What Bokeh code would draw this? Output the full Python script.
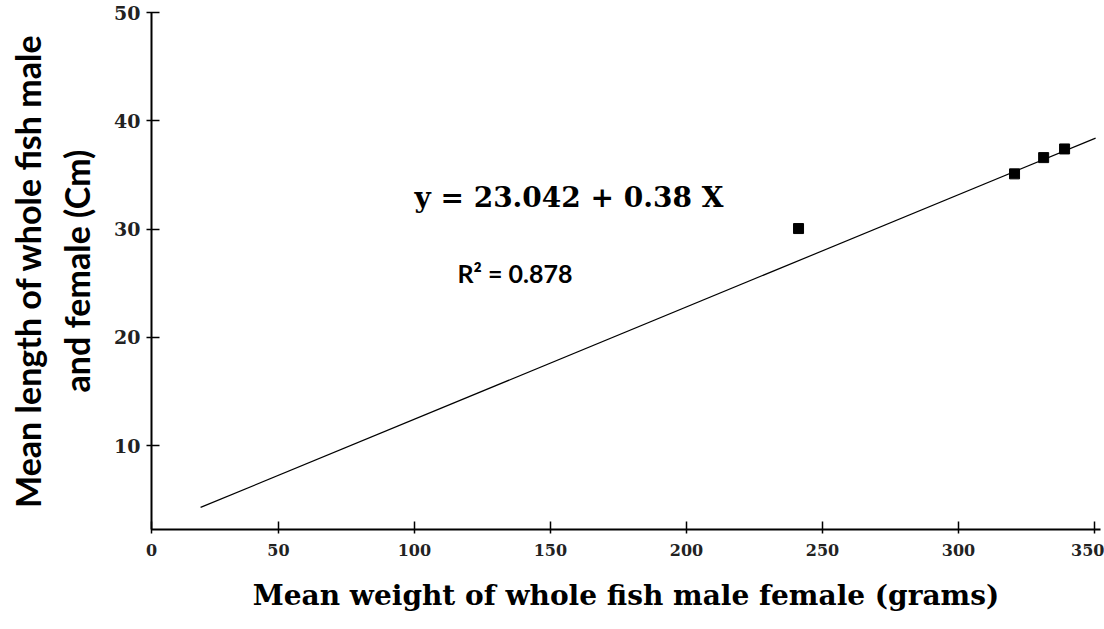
from bokeh.plotting import figure
from bokeh.models import Range1d, FixedTicker, Label, ColumnDataSource
from bokeh.embed import file_html
from bokeh.resources import INLINE

# data
weight = [241.2, 320.6, 331.3, 339.0]
length = [30.05, 35.1, 36.6, 37.4]
fit_x = [21.4, 350.4]
fit_y = [4.3, 38.4]
x_ticks = [50, 100, 150, 200, 250, 300, 350]
y_ticks = [10, 20, 30, 40, 50]
origin_label = "0"

x_start, x_end = 3.35, 352.2
y_start, y_end = 2.26, 50.0

p = figure(width=1104, height=629, output_backend="svg", toolbar_location=None,
           x_range=Range1d(x_start, x_end), y_range=Range1d(y_start, y_end),
           min_border_left=151, min_border_right=4, min_border_top=12, min_border_bottom=100)
p.grid.visible = False
p.outline_line_color = None
p.background_fill_color = "white"
p.border_fill_color = "white"

p.line(fit_x, fit_y, line_color="black", line_width=1.2)
src = ColumnDataSource(dict(x=weight, y=length))
p.scatter("x", "y", source=src, marker="square", size=10, fill_color="black", line_color="black")

serif = "DejaVu Serif"
for ax in (p.xaxis[0], p.yaxis[0]):
    ax.axis_line_width = 2
    ax.axis_line_color = "black"
    ax.major_tick_line_color = "black"
    ax.major_tick_line_width = 1.5
    ax.minor_tick_line_color = None
    ax.major_label_text_font = serif
    ax.major_label_text_font_style = "bold"
    ax.major_label_text_color = "#222222"

p.xaxis.major_label_text_font_size = "16px"
p.yaxis.major_label_text_font_size = "19px"

p.xaxis.ticker = FixedTicker(ticks=[x_start] + x_ticks)
p.xaxis.major_label_overrides = {x_start: origin_label}
p.yaxis.ticker = FixedTicker(ticks=y_ticks)
p.xaxis.major_tick_in = 8
p.xaxis.major_tick_out = 4
p.yaxis.major_tick_in = 8
p.yaxis.major_tick_out = 5
p.xaxis.major_label_standoff = 10
p.yaxis.major_label_standoff = 6

p.xaxis.axis_label = "Mean weight of whole fish male female (grams)"
p.xaxis.axis_label_text_font = serif
p.xaxis.axis_label_text_font_style = "bold"
p.xaxis.axis_label_text_font_size = "28px"
p.xaxis.axis_label_text_color = "black"
p.xaxis.axis_label_standoff = 20

p.yaxis.axis_label = "Mean length of whole fish male\nand female (Cm)"
p.yaxis.axis_label_text_font = "Lato"
p.yaxis.axis_label_text_font_style = "bold"
p.yaxis.axis_label_text_font_size = "34px"
p.yaxis.axis_label_text_color = "black"
p.yaxis.axis_label_text_line_height = 1.2
p.yaxis.axis_label_standoff = 14

p.add_layout(Label(x=100, y=32.9, text="y = 23.042 + 0.38 X", text_font=serif,
                   text_font_style="bold", text_font_size="28px", text_color="black",
                   text_baseline="middle", text_align="left"))
p.add_layout(Label(x=115.8, y=25.9, text="R² = 0.878", text_font="Lato",
                   text_font_style="bold", text_font_size="25px", text_color="black",
                   text_baseline="middle", text_align="left"))

open("out.html", "w").write(file_html(p, INLINE))
